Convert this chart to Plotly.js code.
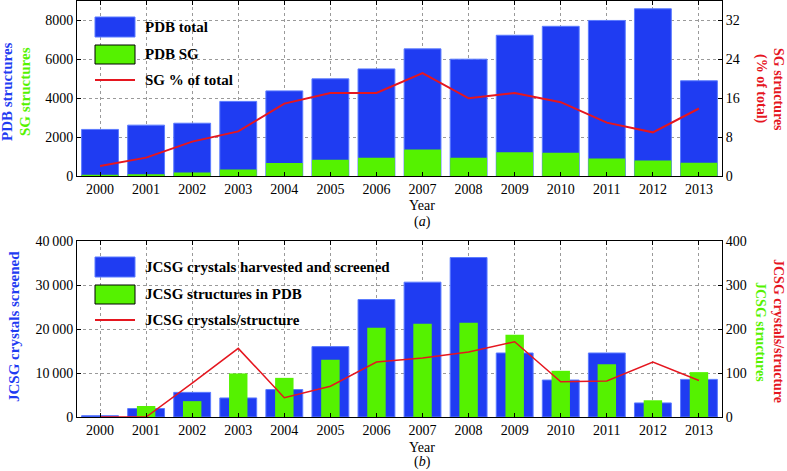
<!DOCTYPE html>
<html>
<head>
<meta charset="utf-8">
<script src="https://cdn.plot.ly/plotly-3.0.1.min.js"></script>
<style>html,body{margin:0;padding:0;background:#fff;}#chart{width:787px;height:471px;}</style>
</head>
<body>
<div id="chart"></div>
<script>
// ---- data ----
var years = [2000, 2001, 2002, 2003, 2004, 2005, 2006, 2007, 2008, 2009, 2010, 2011, 2012, 2013];
var pdbTotal = [2400, 2620, 2720, 3840, 4380, 5000, 5510, 6540, 6010, 7240, 7700, 8000, 8600, 4900];
var pdbSG = [70, 100, 190, 340, 670, 840, 940, 1370, 940, 1230, 1200, 910, 800, 690];
var sgPct = [2.1, 3.8, 7.1, 9.2, 14.9, 17.1, 17.1, 21.2, 16.0, 17.1, 15.2, 11.0, 9.0, 13.9];

var jcsgCrystals = [300, 1920, 5600, 4330, 6240, 16000, 26700, 30650, 36250, 14550, 8400, 14550, 3200, 8550];
var jcsgStructures = [0, 25, 36, 99, 89, 130, 203, 212, 214, 187, 105, 120, 38, 102];
var jcsgRatio = [0, 0, 77, 156, 44, 70, 125, 134, 148, 171, 80, 82, 125, 83];

var topLeftTicks = [0, 2000, 4000, 6000, 8000];
var topRightTicks = [0, 8, 16, 24, 32];
var botLeftTicks = [0, 10000, 20000, 30000, 40000];
var botLeftLabels = ['0', '10\u2009000', '20\u2009000', '30\u2009000', '40\u2009000'];
var botRightTicks = [0, 100, 200, 300, 400];

var legendTop = ['PDB total', 'PDB SG', 'SG % of total'];
var legendBot = ['JCSG crystals harvested and screened', 'JCSG structures in PDB', 'JCSG crystals/structure'];

// ---- styles ----
var BLUE = '#1f3cf2', GREEN = '#55f200', RED = '#e5161f';
var FONT = 'Liberation Serif, Times New Roman, serif';
var L = 77, T = 1;

var traces = [
  {type: 'bar', x: years, y: pdbTotal, xaxis: 'x', yaxis: 'y', width: 0.8,
   marker: {color: BLUE, line: {color: '#5b7bff', width: 1}}, showlegend: false, hoverinfo: 'none'},
  {type: 'bar', x: years, y: pdbSG, xaxis: 'x', yaxis: 'y', width: 0.8,
   marker: {color: GREEN, line: {width: 0}}, showlegend: false, hoverinfo: 'none'},
  {type: 'scatter', mode: 'lines', x: years, y: sgPct, xaxis: 'x', yaxis: 'y2',
   line: {color: RED, width: 2}, showlegend: false, hoverinfo: 'none'},
  {type: 'bar', x: years, y: jcsgCrystals, xaxis: 'x2', yaxis: 'y3', width: 0.8,
   marker: {color: BLUE, line: {color: '#5b7bff', width: 1}}, showlegend: false, hoverinfo: 'none'},
  {type: 'bar', x: years, y: jcsgStructures, xaxis: 'x2', yaxis: 'y4', width: 0.4,
   marker: {color: GREEN, line: {width: 0}}, showlegend: false, hoverinfo: 'none'},
  {type: 'scatter', mode: 'lines', x: years, y: jcsgRatio, xaxis: 'x2', yaxis: 'y4',
   line: {color: RED, width: 1.5}, showlegend: false, hoverinfo: 'none'}
];

function xax(anchor) {
  return {anchor: anchor, range: [1999.5, 2013.5], tickvals: years, ticktext: years.map(String),
    ticks: 'inside', ticklen: 4, tickcolor: '#000', showline: true, linecolor: '#000', linewidth: 1,
    mirror: 'ticks', showgrid: true, gridcolor: '#9a9a9a', griddash: 'dot', gridwidth: 1,
    zeroline: false, tickfont: {family: FONT, size: 14, color: '#000'}, fixedrange: true};
}
function yax(domain, range, vals, text, side, grid, anchor, overlay) {
  var a = {domain: domain, range: range, tickvals: vals, ticktext: text, side: side, anchor: anchor,
    ticks: 'inside', ticklen: 4, tickcolor: '#000', showline: true, linecolor: '#000', linewidth: 1,
    showgrid: grid, gridcolor: '#9a9a9a', griddash: 'dot', gridwidth: 1, zeroline: false,
    tickfont: {family: FONT, size: 14, color: '#000'}, fixedrange: true};
  if (overlay) a.overlaying = overlay;
  return a;
}

var anns = [];
function txt(px, py, text, color, size, angle, bold, xanchor) {
  anns.push({xref: 'paper', yref: 'paper', x: 0, y: 1, xshift: px - L, yshift: -(py - T),
    xanchor: xanchor || 'center', yanchor: 'middle', showarrow: false, textangle: angle || 0,
    text: bold ? '<b>' + text + '</b>' : text, font: {family: FONT, size: size, color: color}});
}
// axis titles
txt(7, 92, 'PDB structures', BLUE, 15, -90, true);
txt(25, 92, 'SG structures', GREEN, 15, -90, true);
txt(779, 89, 'SG structures', RED, 14, 90, true);
txt(761, 89, '(% of total)', RED, 14, 90, true);
txt(14, 327, 'JCSG crystals screened', BLUE, 15, -90, true);
txt(779, 331, 'JCSG crystals/structure', RED, 14, 90, true);
txt(761, 332, 'JCSG structures', GREEN, 14, 90, true);
txt(422, 205, 'Year', '#000', 14, 0, false);
txt(422, 222, '(<i>a</i>)', '#000', 14, 0, false);
txt(422, 447, 'Year', '#000', 14, 0, false);
txt(422, 462, '(<i>b</i>)', '#000', 14, 0, false);
// legend texts
txt(143, 27, legendTop[0], '#000', 15, 0, true, 'left');
txt(143, 54, legendTop[1], '#000', 15, 0, true, 'left');
txt(143, 80, legendTop[2], '#000', 15, 0, true, 'left');
txt(143, 267, legendBot[0], '#000', 15, 0, true, 'left');
txt(143, 294, legendBot[1], '#000', 15, 0, true, 'left');
txt(143, 320, legendBot[2], '#000', 15, 0, true, 'left');

var shapes = [];
function box(x0, y0, x1, y1, fill, lineColor) {
  shapes.push({type: 'rect', xref: 'paper', yref: 'paper', xsizemode: 'pixel', ysizemode: 'pixel',
    xanchor: 0, yanchor: 1, x0: x0 - L, x1: x1 - L, y0: -(y0 - T), y1: -(y1 - T),
    fillcolor: fill, line: {color: lineColor, width: 1}});
}
function seg(x0, x1, y, color, w) {
  shapes.push({type: 'line', xref: 'paper', yref: 'paper', xsizemode: 'pixel', ysizemode: 'pixel',
    xanchor: 0, yanchor: 1, x0: x0 - L, x1: x1 - L, y0: -(y - T), y1: -(y - T),
    line: {color: color, width: w}});
}
box(95, 17, 135, 37, BLUE, '#5b7bff');
box(95, 45, 135, 64, GREEN, '#000');
seg(95, 135, 80, RED, 2);
box(95, 257, 135, 277, BLUE, '#5b7bff');
box(95, 285, 135, 304, GREEN, '#000');
seg(95, 135, 320, RED, 2);

var layout = {
  width: 787, height: 471,
  margin: {l: L, r: 65, t: T, b: 54},
  paper_bgcolor: '#fff', plot_bgcolor: '#fff',
  barmode: 'overlay', showlegend: false,
  xaxis: xax('y'),
  xaxis2: xax('y3'),
  yaxis: yax([0.579, 1], [0, 9000], topLeftTicks, topLeftTicks.map(String), 'left', true, 'x'),
  yaxis2: yax([0.579, 1], [0, 36], topRightTicks, topRightTicks.map(String), 'right', false, 'x', 'y'),
  yaxis3: yax([0, 0.423], [0, 40000], botLeftTicks, botLeftLabels, 'left', true, 'x2'),
  yaxis4: yax([0, 0.423], [0, 400], botRightTicks, botRightTicks.map(String), 'right', false, 'x2', 'y3'),
  annotations: anns,
  shapes: shapes
};

Plotly.newPlot('chart', traces, layout, {staticPlot: true, displayModeBar: false});
</script>
</body>
</html>
